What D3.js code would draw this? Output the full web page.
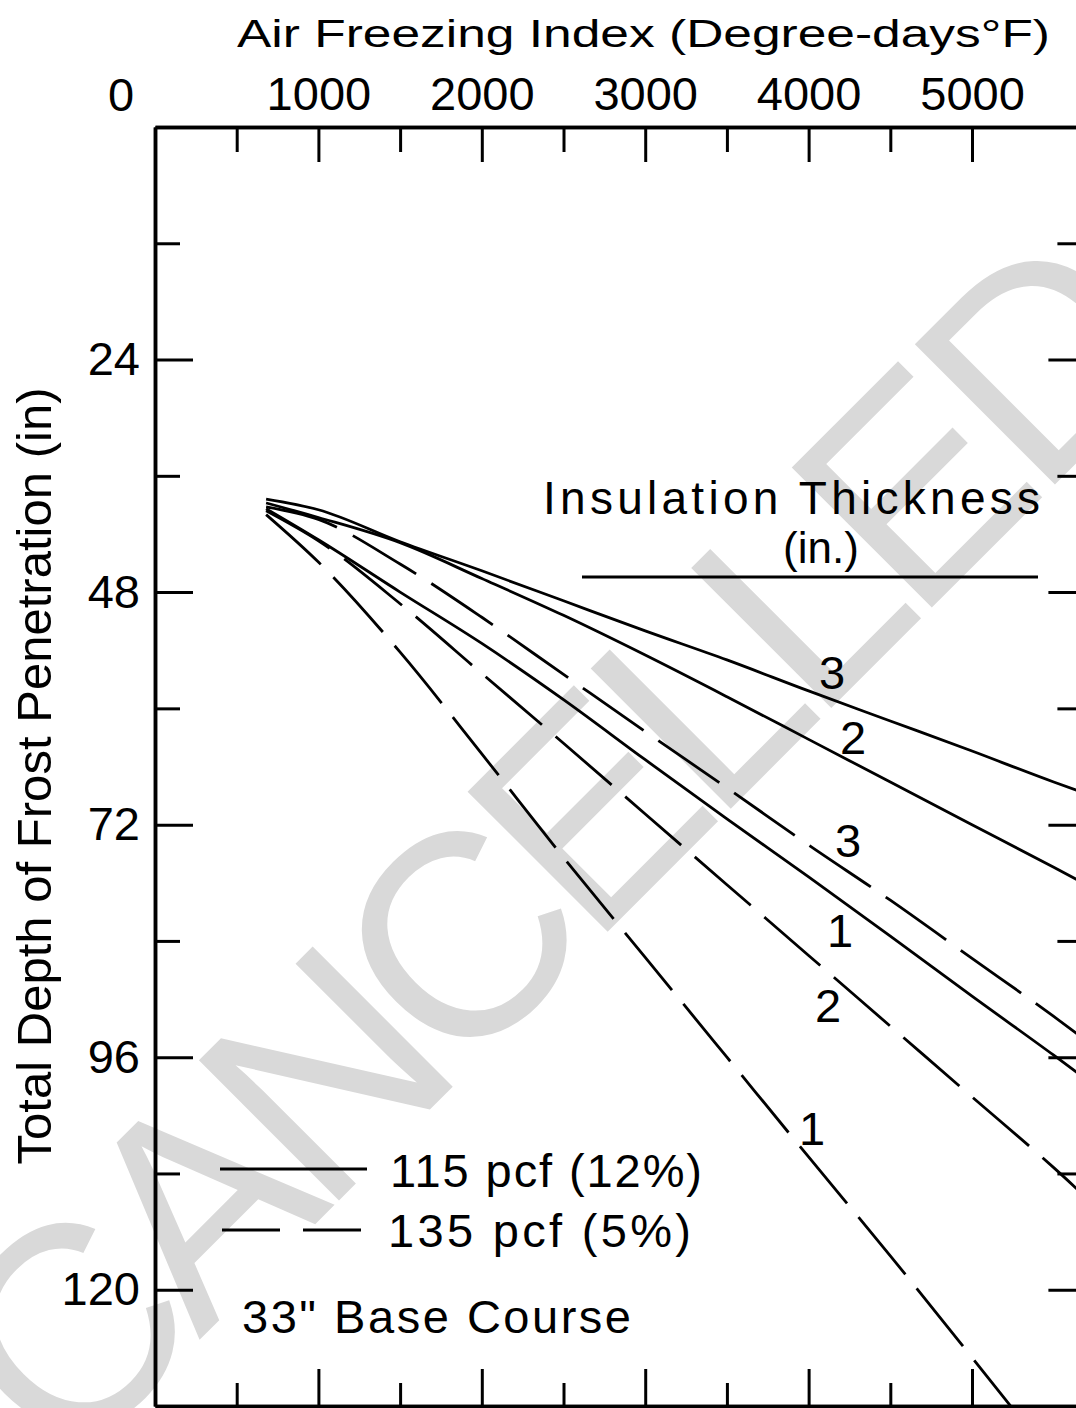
<!DOCTYPE html>
<html><head><meta charset="utf-8">
<script src="https://cdn.jsdelivr.net/npm/d3@7"></script>
<style>
body{margin:0;background:#fff}
svg{display:block;background:#fff}
text{font-family:"Liberation Sans",Arial,sans-serif;fill:#000}
</style>
</head><body>
<svg id="c" width="1076" height="1408"></svg>
<script>
// ---------------- DATA ----------------
const freezingIndex = [680, 1000, 1500, 2000, 2500, 3000, 3500, 4000, 4500, 5000, 5500, 5700];
// Total depth of frost penetration (in), 115 pcf (12%) – solid
const solid3in = [38.4, 39.5, 42.8, 45.8, 48.9, 52.0, 55.0, 58.2, 61.3, 64.4, 67.6, 68.8];
const solid2in = [38.8, 40.3, 42.9, 46.6, 50.4, 54.5, 58.8, 63.2, 67.6, 72.0, 76.4, 78.2];
const solid1in = [39.4, 42.6, 48.0, 53.3, 59.1, 65.3, 71.4, 77.4, 83.5, 89.7, 95.8, 98.3];
// 135 pcf (5%) – dashed
const dashed3in = [39.2, 40.5, 45.1, 50.6, 56.5, 62.4, 68.2, 74.1, 79.8, 85.8, 91.8, 94.3];
const dashed2in = [39.6, 42.7, 49.2, 56.4, 63.6, 70.9, 78.2, 85.5, 92.8, 100.1, 107.4, 110.5];
const dashed1in = [40.0, 44.9, 54.2, 64.7, 75.4, 85.7, 96.0, 106.3, 116.5, 127.0, 137.6, null];

const seriesNames = ["115 pcf 3 in", "115 pcf 2 in", "115 pcf 1 in", "135 pcf 3 in", "135 pcf 2 in", "135 pcf 1 in"];
const seriesLabels = ["3", "2", "1", "3", "2", "1"];
const seriesDashed = [false, false, false, true, true, true];
// label anchor (freezing index, depth)
const labelIndex = [4143, 4272, 4192, 4241, 4119, 4021];
const labelDepth = [56.3, 63.0, 82.9, 73.6, 90.6, 103.3];

const xMajorTicks = [1000, 2000, 3000, 4000, 5000];
const xMinorTicks = [500, 1500, 2500, 3500, 4500];
const yMajorTicks = [24, 48, 72, 96, 120];
const yMinorTicks = [12, 36, 60, 84, 108];
const X_MAX = 5700, Y_MAX = 132;

const legendLabels = ["115 pcf (12%)", "135 pcf (5%)"];
const titleText = "Air Freezing Index (Degree-days\u00B0F)";
const yTitleText = "Total Depth of Frost Penetration (in)";
const noteText = "33\" Base Course";
const watermark = "CANCELLED";

// ---------------- CHART ----------------
const svg = d3.select("#c");
const FONT = '"Liberation Sans", Arial, sans-serif';
const x = d3.scaleLinear().domain([0, X_MAX]).range([155, 1086.4]);
const y = d3.scaleLinear().domain([0, Y_MAX]).range([127, 1406]);

// watermark
svg.append("text")
  .attr("transform", "translate(548,850) rotate(-45)")
  .attr("text-anchor", "middle")
  .attr("dominant-baseline", "central")
  .attr("font-size", 288)
  .attr("letter-spacing", -18)
  .style("fill", "#d9d9d9")
  .text(watermark);

svg.append("clipPath").attr("id", "plot")
  .append("rect").attr("x", x(0)).attr("y", y(0))
  .attr("width", x(X_MAX) - x(0)).attr("height", y(Y_MAX) - y(0));

function styleAxis(g, fs) {
  g.select(".domain").attr("stroke", "#000").attr("stroke-width", 3.5);
  g.selectAll(".tick line").attr("stroke", "#000").attr("stroke-width", 3);
  g.selectAll(".tick text").attr("font-size", fs || 47).attr("font-family", FONT).style("fill", "#000");
}

// top axis
svg.append("g").attr("transform", `translate(0,${y(0)})`)
  .call(d3.axisTop(x).tickValues(xMinorTicks).tickSize(-25).tickSizeOuter(0).tickFormat(""))
  .call(styleAxis);
svg.append("g").attr("transform", `translate(0,${y(0)})`)
  .call(d3.axisTop(x).tickValues(xMajorTicks).tickSize(-35).tickSizeOuter(0).tickPadding(17).tickFormat(d3.format("d")))
  .call(styleAxis);
// bottom axis
svg.append("g").attr("transform", `translate(0,${y(Y_MAX)})`)
  .call(d3.axisBottom(x).tickValues(xMinorTicks).tickSize(-23).tickSizeOuter(0).tickFormat(""))
  .call(styleAxis);
svg.append("g").attr("transform", `translate(0,${y(Y_MAX)})`)
  .call(d3.axisBottom(x).tickValues(xMajorTicks).tickSize(-37).tickSizeOuter(0).tickFormat(""))
  .call(styleAxis);
// left axis
svg.append("g").attr("transform", `translate(${x(0)},0)`)
  .call(d3.axisLeft(y).tickValues(yMinorTicks).tickSize(-25).tickSizeOuter(0).tickFormat(""))
  .call(styleAxis);
svg.append("g").attr("transform", `translate(${x(0)},0)`)
  .call(d3.axisLeft(y).tickValues(yMajorTicks).tickSize(-38).tickSizeOuter(0).tickPadding(15).tickFormat(d3.format("d")))
  .call(styleAxis);
// right axis
svg.append("g").attr("transform", `translate(${x(X_MAX)},0)`)
  .call(d3.axisRight(y).tickValues(yMinorTicks).tickSize(-29).tickSizeOuter(0).tickFormat(""))
  .call(styleAxis);
svg.append("g").attr("transform", `translate(${x(X_MAX)},0)`)
  .call(d3.axisRight(y).tickValues(yMajorTicks).tickSize(-38).tickSizeOuter(0).tickFormat(""))
  .call(styleAxis);

// origin label
svg.append("text").attr("x", 121).attr("y", 111).attr("text-anchor", "middle")
  .attr("font-size", 47).text("0");

// titles
svg.append("text").attr("x", 237).attr("y", 47).attr("font-size", 38)
  .attr("textLength", 813).attr("lengthAdjust", "spacingAndGlyphs").text(titleText);
svg.append("text").attr("transform", "translate(51,776) rotate(-90)")
  .attr("text-anchor", "middle").attr("font-size", 48)
  .attr("textLength", 777).attr("lengthAdjust", "spacingAndGlyphs").text(yTitleText);

// curves
const allSeries = [solid3in, solid2in, solid1in, dashed3in, dashed2in, dashed1in];
const line = d3.line()
  .defined(d => d[1] != null)
  .x(d => x(d[0])).y(d => y(d[1]))
  .curve(d3.curveMonotoneX);
const curves = svg.append("g").attr("clip-path", "url(#plot)");
allSeries.forEach((vals, i) => {
  const pts = freezingIndex.map((f, j) => [f, vals[j]]);
  curves.append("path")
    .datum(pts)
    .attr("class", "series")
    .attr("data-name", seriesNames[i])
    .attr("fill", "none")
    .attr("stroke", "#000")
    .attr("stroke-width", 2.8)
    .attr("stroke-dasharray", seriesDashed[i] ? "74,18" : null)
    .attr("d", line);
  svg.append("text")
    .attr("x", x(labelIndex[i])).attr("y", y(labelDepth[i]))
    .attr("dy", "0.36em").attr("text-anchor", "middle")
    .attr("font-size", 47).text(seriesLabels[i]);
});

// insulation thickness header
svg.append("text").attr("x", 543).attr("y", 514).attr("font-size", 46)
  .attr("textLength", 497).attr("lengthAdjust", "spacing").text("Insulation Thickness");
svg.append("text").attr("x", 821).attr("y", 563).attr("text-anchor", "middle").attr("font-size", 44)
  .text("(in.)");
svg.append("line").attr("x1", 582).attr("x2", 1038).attr("y1", 577).attr("y2", 577)
  .attr("stroke", "#000").attr("stroke-width", 3);

// legend
svg.append("line").attr("x1", 220).attr("x2", 367).attr("y1", 1169).attr("y2", 1169)
  .attr("stroke", "#000").attr("stroke-width", 3);
svg.append("line").attr("x1", 222).attr("x2", 367).attr("y1", 1230).attr("y2", 1230)
  .attr("stroke", "#000").attr("stroke-width", 3).attr("stroke-dasharray", "58,23");
svg.append("text").attr("x", 390).attr("y", 1187).attr("font-size", 47)
  .attr("textLength", 312).attr("lengthAdjust", "spacing").text(legendLabels[0]);
svg.append("text").attr("x", 388).attr("y", 1247).attr("font-size", 47)
  .attr("textLength", 303).attr("lengthAdjust", "spacing").text(legendLabels[1]);
svg.append("text").attr("x", 242).attr("y", 1333).attr("font-size", 47)
  .attr("textLength", 389).attr("lengthAdjust", "spacing").text(noteText);
</script>
</body></html>
